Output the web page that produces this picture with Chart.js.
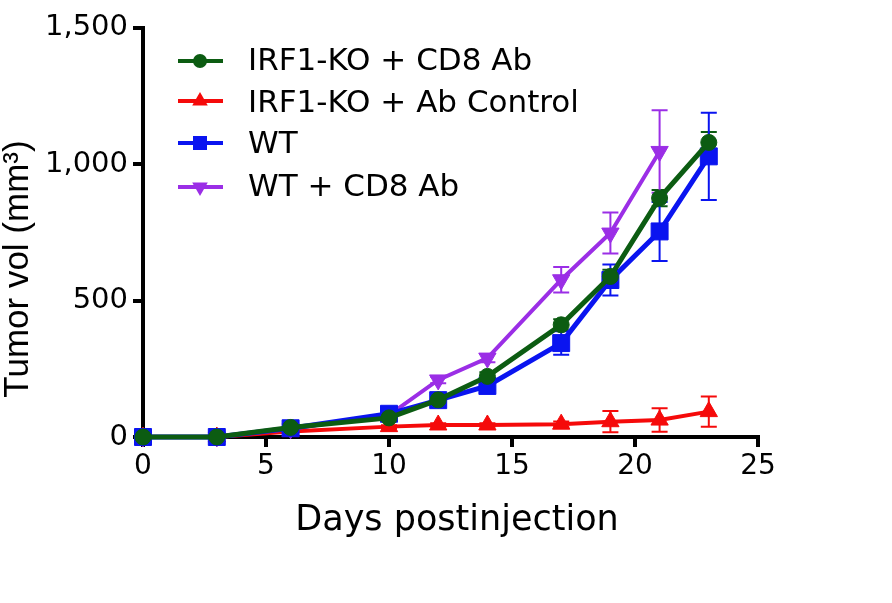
<!DOCTYPE html>
<html><head><meta charset="utf-8">
<script src="https://cdn.jsdelivr.net/npm/chart.js@4/dist/chart.umd.min.js"></script>
<style>html,body{margin:0;padding:0;background:#fff;} #wrap{width:892px;height:603px;}</style>
</head><body><div id="wrap"><canvas id="c" width="892" height="603"></canvas></div>
<script>
// ---- data ----
const days = [0, 3, 6, 10, 12, 14, 17, 19, 21, 23];
const seriesNames = ['IRF1-KO + CD8 Ab', 'IRF1-KO + Ab Control', 'WT', 'WT + CD8 Ab'];
const irf1KoCd8 = [0, 0, 35, 70, 136, 222, 411, 588, 875, 1079];
const irf1KoCd8Err = [0, 0, 5, 8, 10, 15, 20, 25, 30, 38];
const irf1KoCtrl = [0, 0, 20, 38, 44, 44, 47, 56, 62, 93];
const irf1KoCtrlErr = [0, 0, 4, 5, 6, 6, 10, 39, 43, 55];
const wt = [0, 0, 32, 85, 135, 187, 344, 575, 753, 1028];
const wtErr = [0, 0, 5, 8, 12, 15, 43, 57, 108, 160];
const wtCd8 = [0, 0, 30, 80, 209, 289, 576, 747, 1046];
const wtCd8Err = [0, 0, 5, 10, 12, 15, 47, 75, 151];
const xTicks = [0, 5, 10, 15, 20, 25];
const yTicks = [0, 500, 1000, 1500];
const xTitle = 'Days postinjection';
const yTitle = 'Tumor vol (mm\u00B3)';

const colors = ['#0c5c12', '#f50a0a', '#0a14f0', '#9b2ee6'];
const styles = ['circle', 'triangle', 'rect', 'triangle'];
const rotations = [0, 0, 0, 180];
const radii = [8, 10, 12, 10];
const lineWidths = [5, 4, 5, 4];
const values = [irf1KoCd8, irf1KoCtrl, wt, wtCd8];
const errors = [irf1KoCd8Err, irf1KoCtrlErr, wtErr, wtCd8Err];
const orders = [0, 3, 1, 2];

const datasets = values.map((vals, i) => ({
  label: seriesNames[i],
  data: vals.map((v, j) => ({ x: days[j], y: v })),
  errors: errors[i],
  borderColor: colors[i],
  backgroundColor: colors[i],
  pointBackgroundColor: colors[i],
  pointBorderColor: colors[i],
  pointStyle: styles[i],
  rotation: rotations[i],
  pointRotation: rotations[i],
  pointRadius: radii[i],
  pointHoverRadius: radii[i],
  pointBorderWidth: 1,
  borderWidth: lineWidths[i],
  tension: 0,
  clip: false,
  order: orders[i]
}));

const errorBars = {
  id: 'errorBars',
  beforeDatasetsDraw(chart) {
    const ctx = chart.ctx;
    const ys = chart.scales.y;
    chart.data.datasets.forEach((ds, i) => {
      const meta = chart.getDatasetMeta(i);
      ctx.save();
      ctx.strokeStyle = ds.borderColor;
      ctx.lineWidth = 2;
      meta.data.forEach((pt, j) => {
        const e = ds.errors[j];
        if (!e) return;
        const v = ds.data[j].y;
        const yt = ys.getPixelForValue(v + e);
        const yb = ys.getPixelForValue(Math.max(0, v - e));
        const x = pt.x;
        ctx.beginPath();
        ctx.moveTo(x, yt); ctx.lineTo(x, yb);
        ctx.moveTo(x - 8, yt); ctx.lineTo(x + 8, yt);
        ctx.moveTo(x - 8, yb); ctx.lineTo(x + 8, yb);
        ctx.stroke();
      });
      ctx.restore();
    });
  }
};

function marker(ctx, style, rot, x, y, color) {
  ctx.fillStyle = color;
  ctx.beginPath();
  if (style === 'circle') {
    ctx.arc(x, y, 7, 0, Math.PI * 2);
  } else if (style === 'rect') {
    ctx.rect(x - 7, y - 7, 14, 14);
  } else {
    const r = 9, s = rot ? -1 : 1;
    ctx.moveTo(x, y - s * r);
    ctx.lineTo(x + r * 0.866, y + s * r / 2);
    ctx.lineTo(x - r * 0.866, y + s * r / 2);
    ctx.closePath();
  }
  ctx.fill();
}

const legendAndTitles = {
  id: 'legendAndTitles',
  afterDraw(chart) {
    const ctx = chart.ctx;
    ctx.save();
    const markY = [61, 101, 143, 187];
    const baseY = [70, 112, 153, 196];
    seriesNames.forEach((name, i) => {
      ctx.strokeStyle = colors[i];
      ctx.lineWidth = 4;
      ctx.beginPath();
      ctx.moveTo(178, markY[i]); ctx.lineTo(223, markY[i]);
      ctx.stroke();
      marker(ctx, styles[i], rotations[i], 200, markY[i], colors[i]);
      ctx.fillStyle = '#000';
      ctx.font = '31px "DejaVu Sans"';
      ctx.textAlign = 'left';
      ctx.textBaseline = 'alphabetic';
      ctx.fillText(name, 248, baseY[i]);
    });
    // x title
    ctx.fillStyle = '#000';
    ctx.font = '35px "DejaVu Sans"';
    ctx.textAlign = 'center';
    ctx.textBaseline = 'alphabetic';
    ctx.fillText(xTitle, 457, 530);
    // y title
    ctx.translate(28, 269);
    ctx.rotate(-Math.PI / 2);
    ctx.font = '35px "Liberation Sans"';
    ctx.textAlign = 'center';
    ctx.fillText(yTitle, 0, 0);
    ctx.restore();
  }
};

Chart.defaults.font.family = '"DejaVu Sans"';
Chart.defaults.color = '#000';

new Chart(document.getElementById('c'), {
  type: 'line',
  data: { datasets },
  options: {
    responsive: false,
    devicePixelRatio: 1,
    animation: false,
    layout: { padding: { left: 0, top: 27.5, right: 134, bottom: 0 } },
    plugins: { legend: { display: false }, tooltip: { enabled: false } },
    scales: {
      x: {
        type: 'linear',
        min: 0, max: 25,
        afterFit(scale) { scale.height = 166; },
        afterBuildTicks(scale) { scale.ticks = xTicks.map(v => ({ value: v })); },
        border: { display: true, width: 4, color: '#000' },
        grid: { display: true, drawOnChartArea: false, drawTicks: true, tickLength: 10, lineWidth: 4, color: '#000' },
        ticks: { font: { size: 28 }, padding: 3, color: '#000', maxRotation: 0 }
      },
      y: {
        type: 'linear',
        min: 0, max: 1500,
        afterFit(scale) { scale.width = 143; },
        afterBuildTicks(scale) { scale.ticks = yTicks.map(v => ({ value: v })); },
        border: { display: true, width: 4, color: '#000' },
        grid: { display: true, drawOnChartArea: false, drawTicks: true, tickLength: 10, lineWidth: 4, color: '#000' },
        ticks: {
          font: { size: 29 }, padding: 5, color: '#000',
          callback: v => v.toLocaleString('en-US')
        }
      }
    }
  },
  plugins: [errorBars, legendAndTitles]
});
</script>
</body></html>
